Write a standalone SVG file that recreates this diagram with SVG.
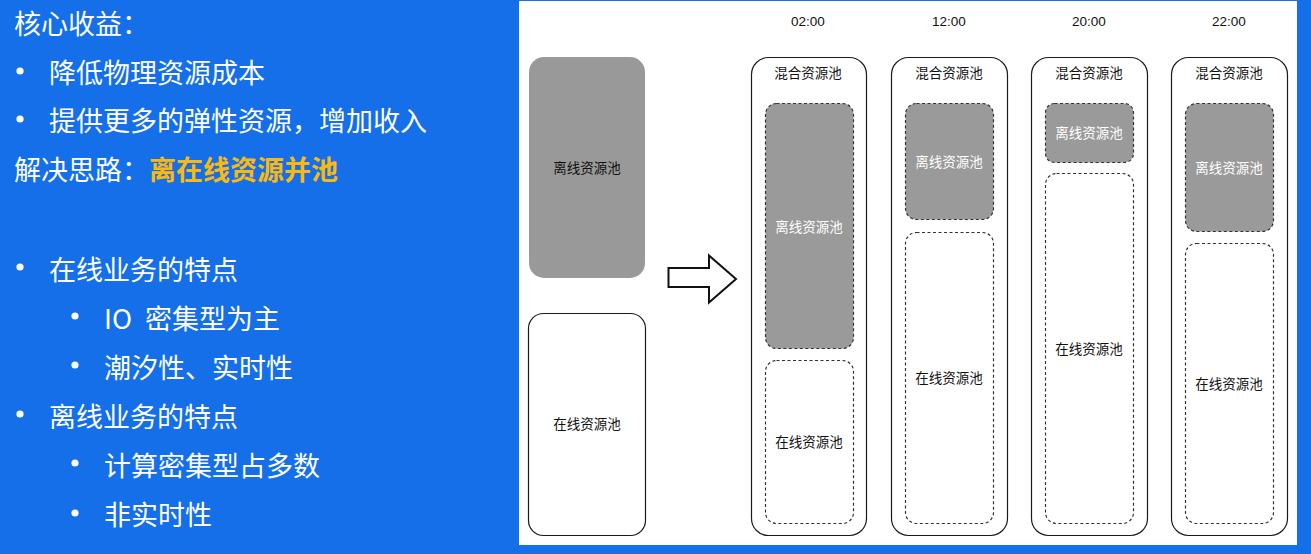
<svg xmlns="http://www.w3.org/2000/svg" width="1311" height="554" viewBox="0 0 1311 554">
<style>
.h{font-family:"Noto Sans CJK SC","Noto Sans",sans-serif;font-size:27px;fill:#ffffff;dominant-baseline:central}
.hl{fill:#FBB910;font-weight:bold}
.lbl{font-family:"Noto Sans CJK SC","Liberation Sans",sans-serif;font-size:13.5px;fill:#111;text-anchor:middle;dominant-baseline:central}
.wl{fill:#ffffff}
.tm{font-family:"Liberation Sans","Noto Sans",sans-serif;font-size:13.5px;fill:#111;text-anchor:middle;dominant-baseline:central}
.outer{fill:#ffffff;stroke:#1a1a1a;stroke-width:1.2}
.off{fill:#9a9a9a;stroke:#333;stroke-width:1.2;stroke-dasharray:3 2.5}
.on{fill:#ffffff;stroke:#333;stroke-width:1.2;stroke-dasharray:3 2.5}
.b{fill:#ffffff}
</style>
<rect x="0" y="0" width="1311" height="554" fill="#146FE8"/>
<rect x="519" y="1" width="778" height="544" fill="#ffffff"/>

<g id="text-panel">
<text class="h" x="14" y="22">核心收益：</text>
<circle class="b" cx="20" cy="71" r="3.6"/>
<text class="h" x="49" y="71">降低物理资源成本</text>
<circle class="b" cx="20" cy="119" r="3.6"/>
<text class="h" x="49" y="119">提供更多的弹性资源，增加收入</text>
<text class="h" x="14" y="168">解决思路：<tspan class="hl">离在线资源并池</tspan></text>
<circle class="b" cx="20" cy="267" r="3.6"/>
<text class="h" x="49" y="268">在线业务的特点</text>
<circle class="b" cx="75" cy="316" r="3.6"/>
<text class="h" x="104" y="317">IO <tspan dx="7">密集型为主</tspan></text>
<circle class="b" cx="75" cy="365" r="3.6"/>
<text class="h" x="104" y="366">潮汐性、实时性</text>
<circle class="b" cx="20" cy="414" r="3.6"/>
<text class="h" x="49" y="415">离线业务的特点</text>
<circle class="b" cx="75" cy="463" r="3.6"/>
<text class="h" x="104" y="464">计算密集型占多数</text>
<circle class="b" cx="75" cy="513" r="3.6"/>
<text class="h" x="104" y="513">非实时性</text>
</g>

<g id="offline-pool">
<rect x="529" y="57" width="116" height="221" rx="15" fill="#999999"/>
<text class="lbl" x="587" y="167">离线资源池</text>
</g>
<g id="online-pool">
<rect x="528.5" y="313.5" width="117" height="222" rx="15" class="outer"/>
<text class="lbl" x="587" y="423">在线资源池</text>
</g>

<g id="connectors">
<polygon points="668.5,268 709,268 709,255.5 736,279 709,302.5 709,287 668.5,287" fill="#ffffff" stroke="#111" stroke-width="2" stroke-linejoin="miter"/>
</g>

<g id="col-0200">
<text class="tm" x="808" y="21">02:00</text>
<rect class="outer" x="751.5" y="57.5" width="115" height="478" rx="17"/>
<text class="lbl" x="808" y="72">混合资源池</text>
<rect class="off" x="765.5" y="103.5" width="88" height="245" rx="11"/>
<text class="lbl wl" x="809" y="226">离线资源池</text>
<rect class="on" x="765.5" y="360.5" width="88" height="163" rx="11"/>
<text class="lbl" x="809" y="441">在线资源池</text>
</g>

<g id="col-1200">
<text class="tm" x="949" y="21">12:00</text>
<rect class="outer" x="891.5" y="57.5" width="116" height="478" rx="17"/>
<text class="lbl" x="949" y="72">混合资源池</text>
<rect class="off" x="905.5" y="103.5" width="88" height="116" rx="11"/>
<text class="lbl wl" x="949" y="161">离线资源池</text>
<rect class="on" x="905.5" y="232.5" width="88" height="291" rx="11"/>
<text class="lbl" x="949" y="377">在线资源池</text>
</g>

<g id="col-2000">
<text class="tm" x="1089" y="21">20:00</text>
<rect class="outer" x="1031.5" y="57.5" width="116" height="478" rx="17"/>
<text class="lbl" x="1089" y="72">混合资源池</text>
<rect class="off" x="1045.5" y="103.5" width="88" height="59" rx="9"/>
<text class="lbl wl" x="1089" y="132">离线资源池</text>
<rect class="on" x="1045.5" y="173.5" width="88" height="350" rx="11"/>
<text class="lbl" x="1089" y="348">在线资源池</text>
</g>

<g id="col-2200">
<text class="tm" x="1229" y="21">22:00</text>
<rect class="outer" x="1171.5" y="57.5" width="116" height="478" rx="17"/>
<text class="lbl" x="1229" y="72">混合资源池</text>
<rect class="off" x="1185.5" y="103.5" width="88" height="128" rx="11"/>
<text class="lbl wl" x="1229" y="167">离线资源池</text>
<rect class="on" x="1185.5" y="243.5" width="88" height="280" rx="11"/>
<text class="lbl" x="1229" y="383">在线资源池</text>
</g>
</svg>
